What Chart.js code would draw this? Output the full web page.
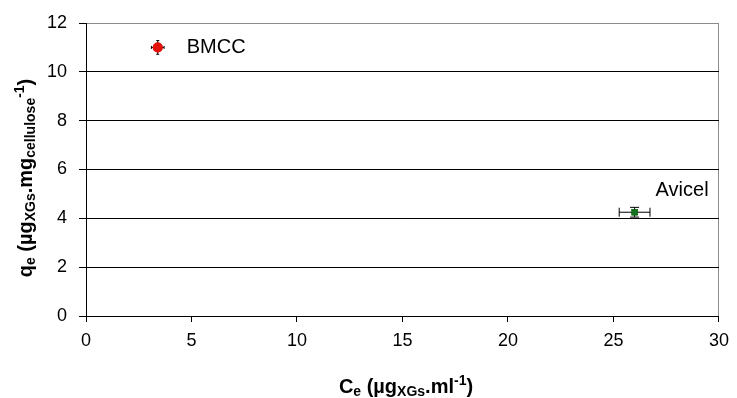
<!DOCTYPE html>
<html>
<head>
<meta charset="utf-8">
<script src="https://cdn.jsdelivr.net/npm/chart.js@4/dist/chart.umd.min.js"></script>
<style>
  html, body { margin: 0; padding: 0; background: #fff; }
  #wrap { width: 737px; height: 398px; position: relative; }
</style>
</head>
<body>
<div id="wrap"><canvas id="grafico"></canvas></div>
<script>
// dados
const categories = ["BMCC", "Avicel"];
const ceValues = [3.4, 26.0];
const qeValues = [11.0, 4.25];
const ceErrors = [0.3, 0.73];
const qeErrors = [0.28, 0.2];
const pointColors = ["#e3120b", "#13701c"];
const pointShapes = ["circle", "rect"];

const FONT = "'Liberation Sans', Arial, sans-serif";

// barras de erro + rótulos dos pontos
const errorBars = {
  id: "errorBars",
  afterDatasetsDraw(chart) {
    const ctx = chart.ctx;
    const xs = chart.scales.x, ys = chart.scales.y;
    ctx.save();
    ctx.strokeStyle = "#000";
    ctx.lineWidth = 1;
    categories.forEach((name, i) => {
      const cx = xs.getPixelForValue(ceValues[i]);
      const cy = ys.getPixelForValue(qeValues[i]);
      const x1 = xs.getPixelForValue(ceValues[i] - ceErrors[i]);
      const x2 = xs.getPixelForValue(ceValues[i] + ceErrors[i]);
      const y1 = ys.getPixelForValue(qeValues[i] - qeErrors[i]);
      const y2 = ys.getPixelForValue(qeValues[i] + qeErrors[i]);
      const cap = i === 0 ? 1.5 : 4.5;
      ctx.beginPath();
      ctx.moveTo(x1, cy); ctx.lineTo(x2, cy);
      ctx.moveTo(x1, cy - cap); ctx.lineTo(x1, cy + cap);
      ctx.moveTo(x2, cy - cap); ctx.lineTo(x2, cy + cap);
      ctx.moveTo(cx, y1); ctx.lineTo(cx, y2);
      ctx.moveTo(cx - cap, y1); ctx.lineTo(cx + cap, y1);
      ctx.moveTo(cx - cap, y2); ctx.lineTo(cx + cap, y2);
      ctx.stroke();
    });
    // redesenhar os pontos por cima
    chart.getDatasetMeta(0).data.forEach(p => p.draw(ctx, chart.chartArea));
    ctx.fillStyle = "#000";
    ctx.font = "20px " + FONT;
    ctx.textBaseline = "middle";
    ctx.textAlign = "left";
    let p0 = chart.getDatasetMeta(0).data[0];
    ctx.fillText(categories[0], p0.x + 29, p0.y);
    let p1 = chart.getDatasetMeta(0).data[1];
    ctx.fillText(categories[1], p1.x + 21, p1.y - 22);
    ctx.restore();
  }
};

// títulos dos eixos com subscrito / sobrescrito
function drawRich(ctx, parts, x, y) {
  let total = 0;
  parts.forEach(p => { ctx.font = "bold " + p[1] + "px " + FONT; total += ctx.measureText(p[0]).width; });
  let cur = x - total / 2;
  parts.forEach(p => {
    ctx.font = "bold " + p[1] + "px " + FONT;
    ctx.fillText(p[0], cur, y + p[2]);
    cur += ctx.measureText(p[0]).width;
  });
}

const axisTitles = {
  id: "axisTitles",
  afterDraw(chart) {
    const ctx = chart.ctx;
    ctx.save();
    ctx.fillStyle = "#000";
    ctx.textBaseline = "alphabetic";
    ctx.textAlign = "left";
    drawRich(ctx, [
      ["C", 20, 0], ["e", 14, 3], [" (\u00b5g", 20, 0], ["XGs", 14, 3],
      [".ml", 20, 0], ["-1", 14, -8], [")", 20, 0]
    ], 406, 393);
    ctx.translate(32, 178);
    ctx.rotate(-Math.PI / 2);
    drawRich(ctx, [
      ["q", 20, 0], ["e", 14, 3], [" (\u00b5g", 20, 0], ["XGs", 14, 3],
      [".mg", 20, 0], ["cellulose", 14, 3], ["-1", 14, -8], [")", 20, 0]
    ], 0, 0);
    ctx.restore();
  }
};

const config = {
  type: "scatter",
  data: {
    datasets: [{
      label: "qe",
      data: ceValues.map((v, i) => ({ x: v, y: qeValues[i] })),
      backgroundColor: pointColors,
      borderColor: pointColors,
      pointStyle: pointShapes,
      pointRadius: [5, 4.5],
      borderWidth: 0
    }]
  },
  options: {
    responsive: true,
    maintainAspectRatio: false,
    animation: false,
    layout: { padding: { top: 23, right: 14, left: 0, bottom: 0 } },
    plugins: { legend: { display: false }, tooltip: { enabled: false } },
    scales: {
      x: {
        type: "linear",
        min: 0, max: 30,
        ticks: { stepSize: 5, color: "#000", font: { family: FONT, size: 18 }, padding: 8 },
        grid: {
          color: c => c.tick.value === 30 ? "#8c8c8c" : "rgba(0,0,0,0)",
          tickColor: "#000",
          tickLength: 6
        },
        border: { color: "#000" },
        afterFit: s => { s.height = 82; }
      },
      y: {
        min: 0, max: 12,
        ticks: { stepSize: 2, color: "#000", font: { family: FONT, size: 18 }, padding: 12 },
        grid: {
          color: c => c.tick.value === 12 ? "#8c8c8c" : "#000",
          tickColor: "#000",
          tickLength: 7
        },
        border: { color: "#000" },
        afterFit: s => { s.width = 86; }
      }
    }
  },
  plugins: [errorBars, axisTitles]
};

const meuGrafico = new Chart(document.getElementById("grafico"), config);
</script>
</body>
</html>
